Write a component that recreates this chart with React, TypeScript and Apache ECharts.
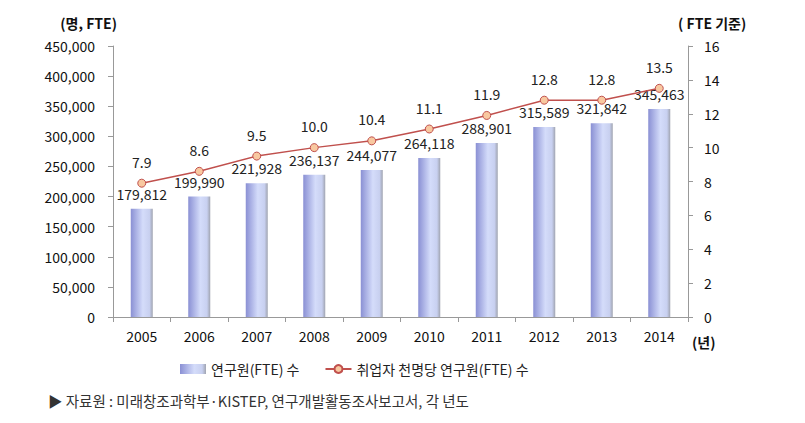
import React, { useEffect, useRef } from "react";
import * as echarts from "echarts";

const years = ["2005", "2006", "2007", "2008", "2009", "2010", "2011", "2012", "2013", "2014"];
const researchers = [179812, 199990, 221928, 236137, 244077, 264118, 288901, 315589, 321842, 345463];
const perThousand = [7.9, 8.6, 9.5, 10.0, 10.4, 11.1, 11.9, 12.8, 12.8, 13.5];
const barName = "연구원(FTE) 수";
const lineName = "취업자 천명당 연구원(FTE) 수";

const FONT = "'Noto Sans CJK KR', 'Noto Sans', sans-serif";

export default function App() {
  const ref = useRef<HTMLDivElement>(null);
  useEffect(() => {
    if (!ref.current) return;
    const chart = echarts.init(ref.current, undefined, { renderer: "svg" });
    const barGrad = new echarts.graphic.LinearGradient(0, 0, 1, 0, [
      { offset: 0, color: "#8a90d4" },
      { offset: 0.55, color: "#d4dcfa" },
      { offset: 0.85, color: "#c8d0f0" },
      { offset: 1, color: "#a0a4b0" },
    ]);
    chart.setOption({
      animation: false,
      textStyle: { fontFamily: FONT },
      grid: { left: 113, right: 117, top: 46, bottom: 106, containLabel: false },
      legend: {
        top: 357,
        left: 175,
        itemGap: 25,
        itemWidth: 26,
        itemHeight: 10,
        textStyle: { fontFamily: FONT, fontSize: 14, color: "#222" },
        data: [
          { name: barName, icon: "rect" },
          { name: lineName },
        ],
      },
      xAxis: {
        type: "category",
        data: years,
        axisLine: { lineStyle: { color: "#999" } },
        axisTick: { show: true, lineStyle: { color: "#999" } },
        axisLabel: { color: "#111", fontSize: 14, fontFamily: FONT, margin: 12 },
      },
      yAxis: [
        {
          type: "value",
          min: 0,
          max: 450000,
          interval: 50000,
          name: "(명, FTE)",
          nameGap: 16,
          nameTextStyle: { fontFamily: FONT, fontWeight: "bold", fontSize: 14, color: "#111", align: "right", padding: [0, -4, 0, 0] },
          splitLine: { show: false },
          axisLine: { show: true, lineStyle: { color: "#999" } },
          axisTick: { show: true, lineStyle: { color: "#999" } },
          axisLabel: {
            color: "#111",
            fontSize: 14,
            fontFamily: FONT,
            margin: 18,
            formatter: (v: number) => v.toLocaleString("en-US"),
          },
        },
        {
          type: "value",
          min: 0,
          max: 16,
          interval: 2,
          name: "( FTE 기준)",
          nameGap: 16,
          nameTextStyle: { fontFamily: FONT, fontWeight: "bold", fontSize: 14, color: "#111", align: "left", padding: [0, 0, 0, -10] },
          splitLine: { show: false },
          axisLine: { show: true, lineStyle: { color: "#999" } },
          axisTick: { show: true, lineStyle: { color: "#999" } },
          axisLabel: { color: "#111", fontSize: 14, fontFamily: FONT, margin: 16 },
        },
      ],
      graphic: [
        {
          type: "text",
          left: 692,
          top: 335,
          style: { text: "(년)", font: `bold 14px ${FONT}`, fill: "#111" },
        },
        {
          type: "text",
          left: 48,
          top: 393,
          style: { text: "▶ 자료원 : 미래창조과학부·KISTEP, 연구개발활동조사보고서, 각 년도", font: `14.5px ${FONT}`, fill: "#333" },
        },
      ],
      series: [
        {
          name: barName,
          type: "bar",
          data: researchers,
          barWidth: 22,
          itemStyle: { color: barGrad },
          label: {
            show: true,
            position: "top",
            distance: 8,
            color: "#222",
            fontSize: 14,
            fontFamily: FONT,
            formatter: (p: any) => Number(p.value).toLocaleString("en-US"),
          },
        },
        {
          name: lineName,
          type: "line",
          yAxisIndex: 1,
          data: perThousand,
          symbol: "circle",
          symbolSize: 8,
          lineStyle: { color: "#c0504d", width: 1.5 },
          itemStyle: { color: "#f8c8a0", borderColor: "#c0504d", borderWidth: 1 },
          label: {
            show: true,
            position: "top",
            distance: 10,
            color: "#222",
            fontSize: 14,
            fontFamily: FONT,
            formatter: (p: any) => Number(p.value).toFixed(1),
          },
        },
      ],
    });
    return () => chart.dispose();
  }, []);
  return <div ref={ref} style={{ width: 805, height: 423, marginLeft: -8, marginTop: -8 }} />;
}
